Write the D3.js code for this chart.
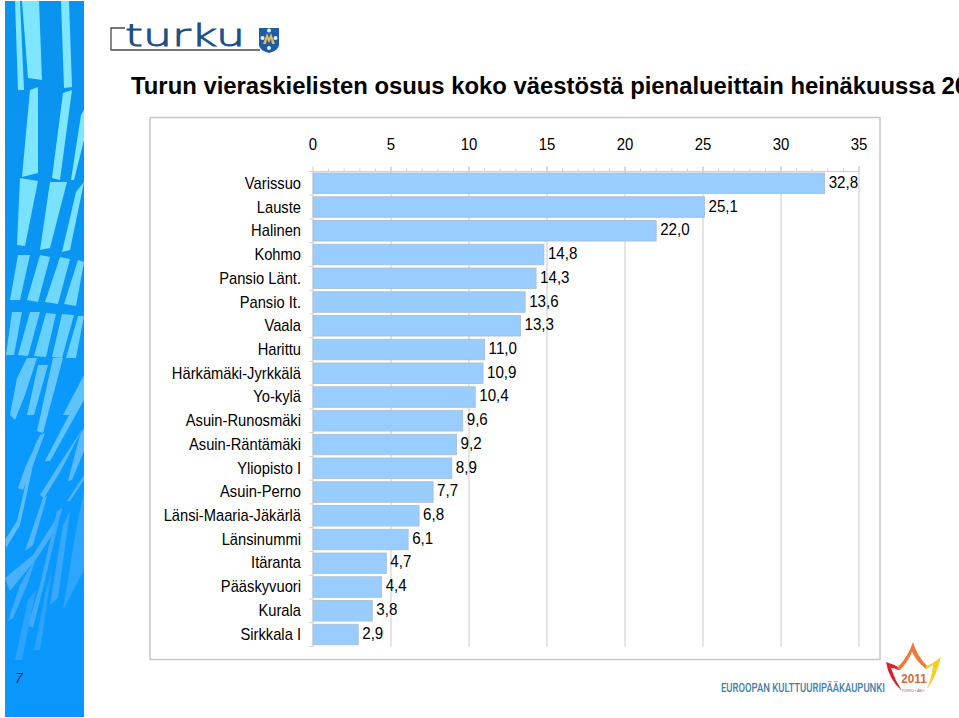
<!DOCTYPE html>
<html><head><meta charset="utf-8">
<script src="https://cdn.jsdelivr.net/npm/d3@7/dist/d3.min.js"></script>
<style>html,body{margin:0;padding:0;background:#fff;overflow:hidden}svg{display:block}text{font-family:"Liberation Sans",Arial,sans-serif}</style>
</head><body><svg id="c" width="959" height="718"></svg>
<script>
const categories=["Varissuo","Lauste","Halinen","Kohmo","Pansio Länt.","Pansio It.","Vaala","Harittu","Härkämäki-Jyrkkälä","Yo-kylä","Asuin-Runosmäki","Asuin-Räntämäki","Yliopisto I","Asuin-Perno","Länsi-Maaria-Jäkärlä","Länsinummi","Itäranta","Pääskyvuori","Kurala","Sirkkala I"];
const values=[32.8,25.1,22.0,14.8,14.3,13.6,13.3,11.0,10.9,10.4,9.6,9.2,8.9,7.7,6.8,6.1,4.7,4.4,3.8,2.9];
const tickLabels=[0,5,10,15,20,25,30,35];
const titleText="Turun vieraskielisten osuus koko väestöstä pienalueittain heinäkuussa 20";
const footerText="EUROOPAN KULTTUURIPÄÄKAUPUNKI";

const svg=d3.select("#c");
const defs=svg.append("defs");
const grad=defs.append("linearGradient").attr("id","bandFade").attr("x1",0).attr("y1",0).attr("x2",0).attr("y2",1);
[[0,"#0a93ee"],[0.42,"#0a96f4"],[0.6,"#0a9aff"],[1,"#0a97fb"]].forEach(s=>grad.append("stop").attr("offset",s[0]).attr("stop-color",s[1]));
defs.append("clipPath").attr("id","bandClip").append("rect").attr("x",5).attr("y",1).attr("width",79).attr("height",716);

/* decorative side banner */
const band=svg.append("g").attr("clip-path","url(#bandClip)");
band.append("rect").attr("x",5).attr("y",1).attr("width",79).attr("height",716).attr("fill","url(#bandFade)");
const deco=[
 ["#7fe6ff",[[22,1],[39,1],[42,80],[28,78]]],
 ["#7fe6ff",[[15,1],[20,1],[24,90],[18,90]]],
 ["#7fe6ff",[[30,90],[38,87],[38,173],[22,177]]],
 ["#7fe6ff",[[61,1],[69,1],[72,87],[64,88]]],
 ["#7fe6ff",[[63,93],[72,90],[60,180],[52,178]]],
 ["#7fe6ff",[[81,115],[84,110],[84,140],[74,180],[71,180]]],
 ["#78e2ff",[[20,178],[38,181],[25,246],[17,245]]],
 ["#78e2ff",[[50,182],[67,182],[50,248],[40,250]]],
 ["#78e2ff",[[76,192],[84,182],[70,250],[62,252]]],
 ["#6fd8ff",[[10,300],[18,255],[30,255],[20,300]]],
 ["#6fd8ff",[[27,300],[40,255],[50,257],[38,302]]],
 ["#6fd8ff",[[45,302],[60,257],[70,259],[58,304]]],
 ["#6fd8ff",[[64,304],[78,260],[84,262],[76,306]]],
 ["#66d0ff",[[6,355],[12,312],[22,312],[14,355]]],
 ["#66d0ff",[[18,355],[30,312],[40,312],[28,356]]],
 ["#66d0ff",[[34,356],[46,313],[56,314],[46,357]]],
 ["#66d0ff",[[52,357],[62,314],[74,315],[62,358]]],
 ["#66d0ff",[[66,358],[78,316],[84,316],[76,358]]],
 ["#62c8fe",[[10,415],[17,378],[27,358],[37,358],[25,395],[15,420]]],
 ["#62c8fe",[[27,415],[38,365],[48,365],[34,415]]],
 ["#62c8fe",[[37,431],[43,433],[63,358],[53,358]]],
 ["#5ec2fd",[[63,415],[84,375],[84,395],[70,415]]],
 ["#5ec2fd",[[45,461],[83,388],[84,400],[50,461]]],
 ["#5abdfd",[[5,540],[17,521],[27,478],[37,438],[32,470],[20,525],[6,548]]],
 ["#5abdfd",[[18,488],[25,468],[40,435],[45,433],[32,468],[23,490]]],
 ["#58bafd",[[68,481],[80,435],[84,428],[84,451],[72,480]]],
 ["#58bafd",[[40,495],[57,468],[83,428],[60,472],[44,498]]],
 ["#52b6fd",[[25,551],[43,498],[47,496],[33,545]]],
 ["#4eb3fd",[[67,501],[84,475],[84,480],[70,501]]],
 ["#48b0fd",[[5,578],[33,555],[63,508],[50,538],[37,558],[10,591]]],
 ["#3eabfd",[[8,621],[20,585],[37,555],[27,585],[13,618]]],
 ["#3eabfd",[[28,625],[40,585],[57,511],[62,508],[43,588],[33,628]]],
 ["#38a8fd",[[50,605],[63,525],[70,511],[58,598]]],
 ["#2ea6fe",[[63,610],[76,530],[84,490],[84,570]]],
 ["#2aa4fe",[[15,660],[28,600],[36,590],[22,660]]],
 ["#2aa4fe",[[34,650],[46,590],[52,570],[40,650]]]
];
const polyLine=d3.line().curve(d3.curveLinearClosed);
band.selectAll("path.s").data(deco).join("path").attr("class","s").attr("d",d=>polyLine(d[1])).attr("fill",d=>d[0]);
svg.append("text").attr("x",15).attr("y",683).attr("font-size",14).attr("font-style","italic").attr("fill","#0c2a6b").text("7");

/* city logo */
const logo=svg.append("g");
logo.append("path").attr("d","M125,28H111V50H260").attr("fill","none").attr("stroke","#4a4a4a").attr("stroke-width",1.3);
logo.append("text").attr("x",125).attr("y",46).style("font-family","'DejaVu Sans'").style("font-weight",200).attr("font-size",31).attr("fill","#1c4f88").attr("stroke","#1c4f88").attr("stroke-width",0.9).attr("textLength",120).attr("lengthAdjust","spacingAndGlyphs").text("turku");
logo.append("path").attr("d","M259,28H279V45Q279,50 269,53Q259,50 259,45Z").attr("fill","#1c5da6");
logo.append("path").attr("d","M263,44L267,33L269,38L271,33L275,44L272,44L271,39L269,43L267,39L266,44Z").attr("fill","#e0bb55");
logo.selectAll("circle").data([[262.5,38],[275.5,38],[269,30.5],[269,48]]).join("circle").attr("cx",d=>d[0]).attr("cy",d=>d[1]).attr("r",2).attr("fill","#e8eef5");

/* title */
svg.append("text").attr("x",131).attr("y",93.5).attr("font-size",23.85).attr("font-weight","bold").attr("fill","#000").text(titleText);

/* chart frame */
svg.append("rect").attr("x",150).attr("y",117.5).attr("width",730).attr("height",542).attr("fill","#fff").attr("stroke","#c8c8c8").attr("stroke-width",1.5);

const x=d3.scaleLinear().domain([0,35]).range([313,859]);
const y=d3.scaleBand().domain(categories).range([171.4,646.4]).paddingInner(0.135).paddingOuter(0.0675);
const catY=d3.scalePoint().domain(categories).range([189,639.5]);
const valY=d3.scalePoint().domain(categories).range([188,638.5]);
const fmt=v=>v.toFixed(1).replace(".",",");
const g=svg.append("g");
const edges=d3.range(0,21).map(i=>171.4+i*y.step());
g.selectAll("line.grid").data(tickLabels.slice(1)).join("line").attr("class","grid").attr("x1",d=>x(d)).attr("x2",d=>x(d)).attr("y1",166.5).attr("y2",646.5).attr("stroke","#c9c9c9").attr("stroke-width",1);
g.selectAll("line.minor").data(d3.range(0,36)).join("line").attr("class","minor").attr("x1",d=>x(d)).attr("x2",d=>x(d)).attr("y1",d=>d%5?168.5:166.5).attr("y2",172).attr("stroke","#cfcfcf");
g.selectAll("line.cattick").data(edges).join("line").attr("class","cattick").attr("x1",309).attr("x2",313).attr("y1",d=>d).attr("y2",d=>d).attr("stroke","#cfcfcf");
g.append("line").attr("x1",x(0)).attr("x2",x(35)).attr("y1",171.5).attr("y2",171.5).attr("stroke","#cfcfcf");
g.append("line").attr("x1",x(0)).attr("x2",x(0)).attr("y1",171.5).attr("y2",646.5).attr("stroke","#cfcfcf");
g.selectAll("rect").data(values).join("rect").attr("x",x(0)).attr("y",(d,i)=>y(categories[i])).attr("width",d=>x(d)-x(0)).attr("height",y.bandwidth()).attr("fill","#99ccff").attr("stroke","#a8bccf").attr("stroke-width",0.8);

svg.selectAll("text.tick").data(tickLabels).join("text").attr("class","tick").attr("transform",d=>`translate(${x(d)},150) scale(0.88,1)`).attr("text-anchor","middle").attr("font-size",17).text(d=>d);
svg.selectAll("text.cat").data(categories).join("text").attr("class","cat").attr("transform",d=>`translate(301,${catY(d)}) scale(0.866,1)`).attr("text-anchor","end").attr("font-size",17).text(d=>d);
svg.selectAll("text.val").data(values).join("text").attr("class","val").attr("transform",(d,i)=>`translate(${x(d)+4},${valY(categories[i])}) scale(0.89,1)`).attr("font-size",17).text(fmt);

/* footer mark */
const foot=svg.append("g");
foot.append("text").attr("x",721).attr("y",692).style("font-family","Roboto").style("font-weight",500).attr("font-size",12.5).attr("fill","#3f7fa8").attr("textLength",164).attr("lengthAdjust","spacingAndGlyphs").text(footerText);
const flame=[
 ["#d8232f","M886,662Q894,664 901,669L898,670Q895,668 891,668Q895,680 902,691Q889,680 886,662Z"],
 ["#ee7b3a","M913,642Q917,656 928,667L926,669Q916,661 912,652Q908,662 900,670L897,668Q908,657 913,642Z"],
 ["#f5cf2e","M941,657Q936,678 927,689Q932,676 933,665Q930,667 927,669L925,667Q934,663 941,657Z"]
];
foot.selectAll("path").data(flame).join("path").attr("d",d=>d[1]).attr("fill",d=>d[0]);
foot.append("text").attr("transform","translate(914,682.5) scale(0.9,1)").attr("text-anchor","middle").attr("font-size",13).attr("font-weight","bold").attr("fill","#d9673a").text("2011");
foot.append("text").attr("x",913).attr("y",691.5).attr("text-anchor","middle").attr("font-size",3.5).attr("fill","#b55").text("TURKU • ÅBO");
</script></body></html>
